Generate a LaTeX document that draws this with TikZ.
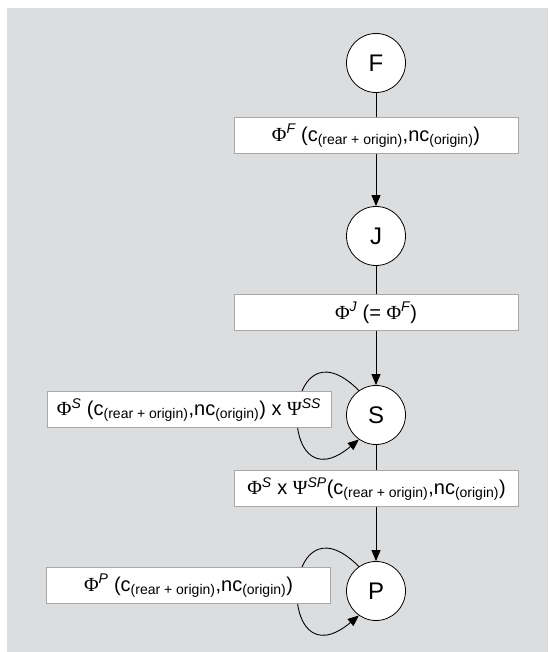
\documentclass[tikz,border=0pt]{standalone}
\usepackage{fontspec}
\setmainfont{Liberation Sans}
\newfontfamily\grk{Liberation Serif}
\usetikzlibrary{arrows.meta}

\definecolor{panel}{RGB}{220,221,223}
\definecolor{boxline}{RGB}{168,168,168}

% Greek symbols, super- and subscripts used in the labels
\newcommand\Ph{{\grk Φ}}
\newcommand\Ps{{\grk Ψ}}
\newcommand\up[1]{\textsuperscript{\itshape #1}}
\newcommand\dn[1]{\textsubscript{#1}}
\newcommand\cnc{(c\dn{(rear + origin)},nc\dn{(origin)})}

\begin{document}
\begin{tikzpicture}[x=1pt,y=1pt,
  state/.style={circle,draw=black,line width=0.8pt,fill=white,
    minimum size=59pt,inner sep=0pt,font=\fontsize{24}{28}\selectfont},
  labelbox/.style={draw=boxline,line width=1pt,fill=white,
    minimum width=284pt,minimum height=36pt,inner sep=0pt,
    font=\fontsize{20}{24}\selectfont},
  flow/.style={line width=0.9pt,-{Triangle[length=11pt,width=9pt]}},
  selfloop/.style={flow,out=135,in=220,distance=110pt},
]
\useasboundingbox (0,0) rectangle (548,652);
\fill[panel] (7,0) rectangle (548,644);

% states
\node[state] (F) at (376,589) {F};
\node[state] (J) at (376,416) {J};
\node[state] (S) at (376,237) {S};
\node[state] (P) at (376,61)  {P};

% transitions
\draw[flow] (F) -- (J);
\draw[flow] (J) -- (S);
\draw[flow] (S) -- (P);

% self loops, partly hidden behind the label boxes
\draw[selfloop] (S.125) to (S.235);
\draw[selfloop] (P.125) to (P.235);

% labels
\node[labelbox] (lF)  at (376,516.5) {\Ph\up{F} \cnc};
\node[labelbox] (lJ)  at (376,339.5) {\Ph\up{J} (= \Ph\up{F})};
\node[labelbox] (lS)  at (189,242)   {\Ph\up{S} \cnc{} x \Ps\up{SS}};
\node[labelbox] (lSP) at (376.5,163) {\Ph\up{S} x \Ps\up{SP}\cnc};
\node[labelbox] (lP)  at (188.5,66.5) {\Ph\up{P} \cnc};
\end{tikzpicture}
\end{document}
